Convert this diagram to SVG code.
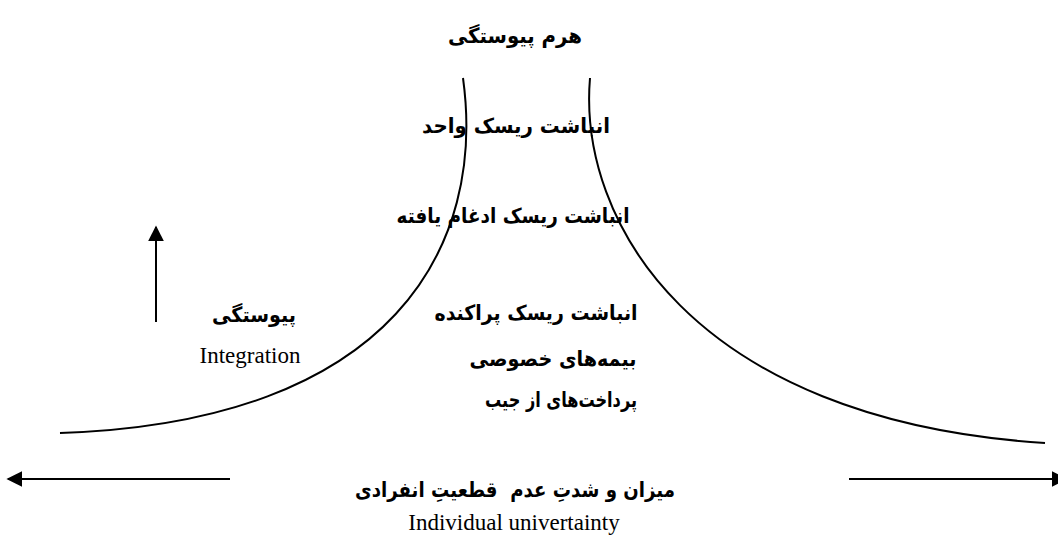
<svg xmlns="http://www.w3.org/2000/svg" width="1058" height="537" viewBox="0 0 1058 537">
<style>
.fa{font-family:"DejaVu Sans","Noto Sans",sans-serif;font-weight:bold;font-size:21px;fill:#000;text-anchor:middle}
.en{font-family:"Liberation Serif","Times New Roman",serif;font-size:23px;fill:#000;text-anchor:middle}
.ln{fill:none;stroke:#000;stroke-width:2}
</style>
<defs>
<marker id="ahb" viewBox="0 0 10 10" refX="9" refY="5" markerWidth="16" markerHeight="16" markerUnits="userSpaceOnUse" orient="auto">
<path d="M0,0 L10,5 L0,10 Z" fill="#000"/>
</marker>
</defs>
<rect width="1058" height="537" fill="#fff"/>
<g id="connectors">
<path class="ln" d="M463,78 C486,245 395,422 60,433"/>
<path class="ln" d="M590,78 C578,220 690,420 1045,443"/>
<line class="ln" x1="156" y1="322" x2="156" y2="227" marker-end="url(#ahb)"/>
<line class="ln" x1="230" y1="479" x2="8" y2="479" marker-end="url(#ahb)"/>
<line class="ln" x1="849" y1="479" x2="1066" y2="479" marker-end="url(#ahb)"/>
</g>
<g id="title"><text class="fa" x="515" y="43" textLength="134" lengthAdjust="spacingAndGlyphs">هرم پیوستگی</text></g>
<g id="single"><text class="fa" x="516" y="133" textLength="188" lengthAdjust="spacingAndGlyphs">انباشت ریسک واحد</text></g>
<g id="merged"><text class="fa" x="513" y="223" textLength="233" lengthAdjust="spacingAndGlyphs">انباشت ریسک ادغام یافته</text></g>
<g id="scattered"><text class="fa" x="536" y="320" textLength="203" lengthAdjust="spacingAndGlyphs">انباشت ریسک پراکنده</text></g>
<g id="private"><text class="fa" x="553" y="366" textLength="167" lengthAdjust="spacingAndGlyphs">بیمه‌های خصوصی</text></g>
<g id="pocket"><text class="fa" x="561" y="407" textLength="152" lengthAdjust="spacingAndGlyphs">پرداخت‌های از جیب</text></g>
<g id="integration">
<text class="fa" x="254" y="322" textLength="84" lengthAdjust="spacingAndGlyphs">پیوستگی</text>
<text class="en" x="250" y="363">Integration</text>
</g>
<g id="uncertainty">
<text class="fa" x="515" y="497" textLength="320" lengthAdjust="spacingAndGlyphs" xml:space="preserve">میزان و شدتِ عدم  قطعیتِ انفرادی</text>
<text class="en" x="514" y="530">Individual univertainty</text>
</g>
</svg>
